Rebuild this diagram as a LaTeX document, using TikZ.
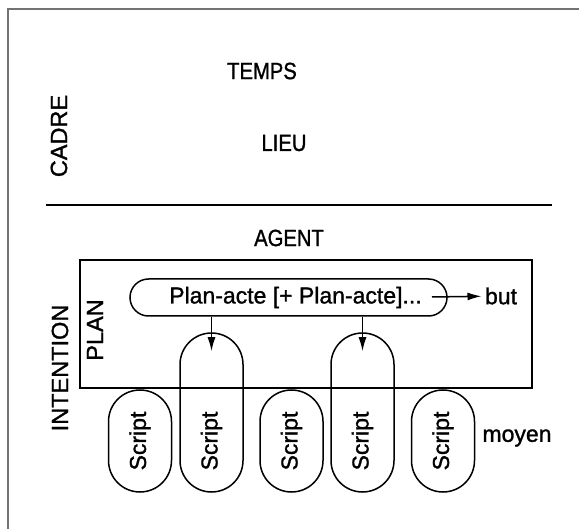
\documentclass[tikz,border=0pt]{standalone}
\usepackage{fontspec}
\setmainfont[FakeBold=1.2]{Liberation Sans}
\newfontfamily\etroite[FakeStretch=0.86, FakeBold=1.2]{Liberation Sans}
\usetikzlibrary{calc, positioning, shapes.misc, arrows.meta}
\definecolor{framegray}{gray}{0.45}

\begin{document}
\begin{tikzpicture}[x=1pt, y=-1pt, font=\fontsize{23}{27}\selectfont,
    ligne/.style={line width=1.5pt},
    titre/.style={font=\etroite\fontsize{23.5}{27}\selectfont},
    vertical/.style={rotate=90, font=\fontsize{23.5}{27}\selectfont},
    capsule/.style={draw, ligne, rounded rectangle, rotate=90, minimum height=63pt, inner sep=0pt},
    scriptcourt/.style={capsule, minimum width=102pt},
    scriptlong/.style={capsule, minimum width=159pt},
    fleche/.style={-{Latex[length=14pt,width=8pt]}, ligne}]
                \useasboundingbox (0,0) rectangle (579,529);
                \draw[framegray, line width=2pt] (8,529) -- (8,9) -- (579,9);

                % cadre
                \node[titre] (temps) at (262,71) {TEMPS};
                \node[titre] (lieu) at (284,143) {LIEU};
                \node[vertical] (cadre) at (59,136) {CADRE};
                \coordinate (sepg) at (46,205);
                \coordinate (sepd) at (552,205);
                \draw[line width=2.2pt] (sepg) -- (sepd);

                % intention
                \node[titre] (agent) at (289,238) {AGENT};
                \node[draw, ligne, minimum width=452pt, minimum height=128pt, inner sep=0pt] (plan) at (306,324) {};
                \node[vertical] (planlbl) at (95,330) {PLAN};
                \node[vertical] (intention) at (60,368) {INTENTION};
                \node[draw, ligne, rounded rectangle, minimum width=317pt, minimum height=37pt, inner sep=0pt] (acte) at (288.5,297.5) {\hspace*{14pt}Plan-acte [+ Plan-acte]...};
                \node (but) at (501,296) {but};
                \coordinate (depart) at (432,297);
                \draw[fleche] (depart) -- (but);

                % scripts
                \node[scriptcourt] (s1) at (140,441) {Script};
                \node[scriptlong] (s2) at (211.5,412.5) {};
                \node[rotate=90] (t2) at (211.5,441) {Script};
                \node[scriptcourt] (s3) at (291.5,441) {Script};
                \node[scriptlong] (s4) at (362.5,412.5) {};
                \node[rotate=90] (t4) at (362.5,441) {Script};
                \node[scriptcourt] (s5) at (443,441) {Script};
                \node (moyen) at (517,438) {moyen};

                \draw[fleche] (acte.south -| s2) -- ([yshift=-19pt]s2.east);
                \draw[fleche] (acte.south -| s4) -- ([yshift=-19pt]s4.east);
\end{tikzpicture}
\end{document}
